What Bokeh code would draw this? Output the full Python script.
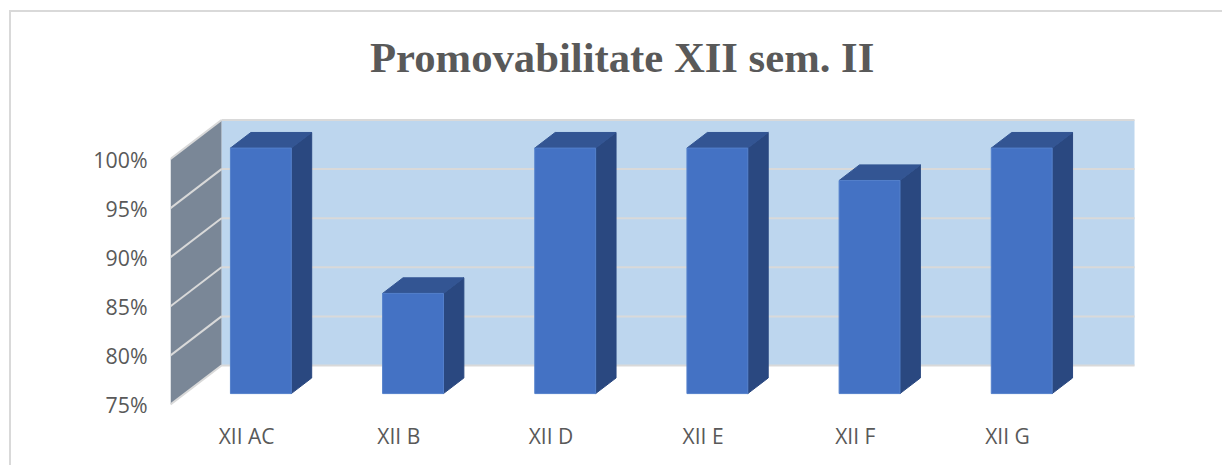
from bokeh.plotting import figure
from bokeh.embed import file_html
from bokeh.resources import INLINE
from bokeh.models import Range1d, FixedTicker

title_text = "Promovabilitate XII sem. II"
categories = ["XII AC", "XII B", "XII D", "XII E", "XII F", "XII G"]
values = [100, 85.2, 100, 100, 96.7, 100]
y_ticks = [75, 80, 85, 90, 95, 100]
y_labels = ["75%", "80%", "85%", "90%", "95%", "100%"]

W, H = 1222, 465
ML, MT, MB = 170, 80, 53
FL, FT, FB, FR = ML, MT, H - MB, W
CAT_W = 152.17         # px per category
PCT = 9.82             # px per percent
Y75 = 404              # px of 75% on front plane
DX, DY = 51 / CAT_W, 39 / PCT   # wall depth in data units
BAR_W = 0.4
BAR_D0, BAR_D1 = 0.28, 0.68

ymin = 75 - (FB - Y75) / PCT
ymax = 75 + (Y75 - FT) / PCT
xmin = -0.5
xmax = -0.5 + (FR - FL) / CAT_W

border = "linear-gradient(#d9d9d9,#d9d9d9)"
p = figure(width=W, height=H, output_backend="svg", toolbar_location=None,
           x_range=Range1d(xmin, xmax), y_range=Range1d(ymin, ymax),
           min_border_left=ML, min_border_top=MT, min_border_bottom=MB, min_border_right=0,
           title=title_text, background_fill_color=None, border_fill_color=None,
           styles={"background": f"{border} 10px 10px / 100% 2px no-repeat, "
                                 f"{border} 9px 10px / 2px 100% no-repeat"})
p.outline_line_color = None
p.grid.visible = False

p.title.align = "left"
p.title.offset = 199.5
p.title.text_font = "Liberation Serif"
p.title.text_font_size = "42.7px"
p.title.text_font_style = "bold"
p.title.text_color = "#595959"
p.title.standoff = 0

ax = p.yaxis[0]
ax.ticker = FixedTicker(ticks=y_ticks)
ax.major_label_overrides = dict(zip(y_ticks, y_labels))
xa = p.xaxis[0]
xa.ticker = FixedTicker(ticks=list(range(len(categories))))
xa.major_label_overrides = dict(zip(range(len(categories)), categories))
for a in (ax, xa):
    a.axis_line_color = None
    a.major_tick_line_color = None
    a.minor_tick_line_color = None
    a.major_label_text_font = "Open Sans"
    a.major_label_text_color = "#595959"
ax.major_label_text_font_size = "21.3px"
xa.major_label_text_font_size = "21px"
ax.major_label_standoff = 17
xa.major_label_standoff = 3


def proj(x, y, d):
    return x + d * DX, y + d * DY


x0, x1 = -0.5, len(categories) - 0.5
y0, y1 = y_ticks[0], y_ticks[-1]

# back wall
p.patch([x0 + DX, x1 + DX, x1 + DX, x0 + DX], [y0 + DY, y0 + DY, y1 + DY, y1 + DY],
        fill_color="#bdd6ee", line_color=None)
# side wall
p.patch([x0, x0 + DX, x0 + DX, x0], [y0, y0 + DY, y1 + DY, y1],
        fill_color="#7a8797", line_color=None)
# gridlines
p.multi_line([[x0 + DX, x1 + DX] for _ in y_ticks], [[t + DY, t + DY] for t in y_ticks],
             line_color="#d9d9d9", line_width=2)
p.multi_line([[x0, x0 + DX] for _ in y_ticks], [[t, t + DY] for t in y_ticks],
             line_color="#d9d9d9", line_width=2)

# bars
fx, fy, sx, sy, tx, ty = [], [], [], [], [], []
for i, v in enumerate(values):
    l, r = i - BAR_W / 2, i + BAR_W / 2
    ax0, by0 = proj(l, y0, BAR_D0)
    ax1, by1 = proj(r, v, BAR_D0)
    bx0, dy0 = proj(r, y0, BAR_D1)
    bx1, dy1 = proj(l, v, BAR_D1)
    bx2, _ = proj(r, v, BAR_D1)
    fx.append([ax0, ax1, ax1, ax0]); fy.append([by0, by0, by1, by1])
    sx.append([ax1, bx2, bx2, ax1]); sy.append([by0, dy0, dy1, by1])
    tx.append([ax0, ax1, bx2, bx1]); ty.append([by1, by1, dy1, dy1])
p.patches(sx, sy, fill_color="#2a4880", line_color="#2a4880", line_width=1)
p.patches(tx, ty, fill_color="#335593", line_color="#335593", line_width=1)
p.patches(fx, fy, fill_color="#4472c4", line_color="#5480cb", line_width=1)

open("out.html", "w").write(file_html(p, INLINE))
